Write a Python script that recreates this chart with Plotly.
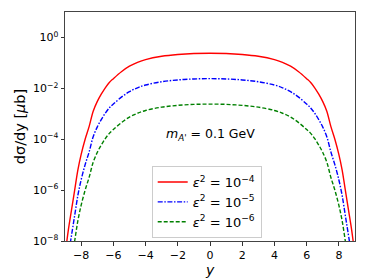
import plotly.graph_objects as go

# rapidity grid
y_rap = [-9.0, -8.8, -8.6, -8.4, -8.2, -8.0, -7.75, -7.5, -7.25, -7.0, -6.75, -6.5, -6.25,
         -6.0, -5.5, -5.0, -4.5, -4.0, -3.0, -2.0, -1.0, 0.0,
         1.0, 2.0, 3.0, 4.0, 4.5, 5.0, 5.5, 6.0, 6.25, 6.5, 6.75, 7.0, 7.25, 7.5, 7.75,
         8.0, 8.2, 8.4, 8.6, 8.8, 9.0]

# dsigma/dy [mu b], eps^2 = 1e-4
eps4 = [2.5e-9, 2.5e-8, 1.6e-7, 1.0e-6, 6.3e-6, 2.5e-5, 1.0e-4, 3.2e-4, 1.26e-3, 3.0e-3,
        5.9e-3, 1.05e-2, 1.7e-2, 2.4e-2, 4.5e-2, 7.4e-2, 1.05e-1, 1.35e-1, 1.82e-1,
        2.14e-1, 2.34e-1, 2.4e-1,
        2.34e-1, 2.14e-1, 1.82e-1, 1.35e-1, 1.05e-1, 7.4e-2, 4.5e-2, 2.4e-2, 1.7e-2,
        1.05e-2, 5.9e-3, 3.0e-3, 1.26e-3, 3.2e-4, 1.0e-4, 2.5e-5, 6.3e-6, 1.0e-6, 1.6e-7,
        2.5e-8, 2.5e-9]
# eps^2 = 1e-5
eps5 = [2.5e-10, 2.5e-9, 1.6e-8, 1.0e-7, 6.3e-7, 2.5e-6, 1.0e-5, 3.2e-5, 1.26e-4, 3.0e-4,
        5.9e-4, 1.05e-3, 1.7e-3, 2.4e-3, 4.5e-3, 7.4e-3, 1.05e-2, 1.35e-2, 1.82e-2,
        2.14e-2, 2.34e-2, 2.4e-2,
        2.34e-2, 2.14e-2, 1.82e-2, 1.35e-2, 1.05e-2, 7.4e-3, 4.5e-3, 2.4e-3, 1.7e-3,
        1.05e-3, 5.9e-4, 3.0e-4, 1.26e-4, 3.2e-5, 1.0e-5, 2.5e-6, 6.3e-7, 1.0e-7, 1.6e-8,
        2.5e-9, 2.5e-10]
# eps^2 = 1e-6
eps6 = [2.5e-11, 2.5e-10, 1.6e-9, 1.0e-8, 6.3e-8, 2.5e-7, 1.0e-6, 3.2e-6, 1.26e-5, 3.0e-5,
        5.9e-5, 1.05e-4, 1.7e-4, 2.4e-4, 4.5e-4, 7.4e-4, 1.05e-3, 1.35e-3, 1.82e-3,
        2.14e-3, 2.34e-3, 2.4e-3,
        2.34e-3, 2.14e-3, 1.82e-3, 1.35e-3, 1.05e-3, 7.4e-4, 4.5e-4, 2.4e-4, 1.7e-4,
        1.05e-4, 5.9e-5, 3.0e-5, 1.26e-5, 3.2e-6, 1.0e-6, 2.5e-7, 6.3e-8, 1.0e-8, 1.6e-9,
        2.5e-10, 2.5e-11]

x_ticks = [-8, -6, -4, -2, 0, 2, 4, 6, 8]
x_tick_text = ["−8", "−6", "−4", "−2", "0", "2", "4", "6", "8"]
y_ticks = [1e0, 1e-2, 1e-4, 1e-6, 1e-8]
y_tick_text = ["10<sup>0</sup>", "10<sup>−2</sup>", "10<sup>−4</sup>", "10<sup>−6</sup>", "10<sup>−8</sup>"]

FONT = "DejaVu Sans"

fig = go.Figure()
fig.add_trace(go.Scatter(x=y_rap, y=eps4, mode="lines", name="<i>ε</i><sup>2</sup> = 10<sup>−4</sup>",
                         line=dict(color="red", width=1.4, shape="spline")))
fig.add_trace(go.Scatter(x=y_rap, y=eps5, mode="lines", name="<i>ε</i><sup>2</sup> = 10<sup>−5</sup>",
                         line=dict(color="blue", width=1.4, shape="spline", dash="5px,1.6px,1.5px,1.6px")))
fig.add_trace(go.Scatter(x=y_rap, y=eps6, mode="lines", name="<i>ε</i><sup>2</sup> = 10<sup>−6</sup>",
                         line=dict(color="green", width=1.4, shape="spline", dash="4px,2px")))

fig.add_annotation(x=0, y=-3.8, xref="x", yref="y", showarrow=False,
                   text="<i>m</i><sub><i>A'</i></sub> = 0.1 GeV",
                   font=dict(family=FONT, size=12.5, color="black"))

# axis titles as paper annotations (exact placement)
fig.add_annotation(x=0.5, y=-0.127, xref="paper", yref="paper", xanchor="center", yanchor="middle",
                   showarrow=False, text="<i>y</i>",
                   font=dict(family=FONT, size=14, color="black"))
fig.add_annotation(x=-0.156, y=0.5, xref="paper", yref="paper", xanchor="center", yanchor="middle",
                   showarrow=False, textangle=-90, text="dσ/dy [<i>μ</i>b]",
                   font=dict(family=FONT, size=14.5, color="black"))

# the page body has an 8 px margin: the figure is sized so that the plot area
# lands at the same window pixels as in the reference
fig.update_layout(
    width=366, height=272,
    margin=dict(l=57, r=19, t=4, b=39),
    paper_bgcolor="white", plot_bgcolor="white",
    font=dict(family=FONT, size=11, color="black"),
    showlegend=True,
    legend=dict(x=0.299, y=0.013, xanchor="left", yanchor="bottom",
                bgcolor="white", bordercolor="#cccccc", borderwidth=1,
                font=dict(family=FONT, size=13, color="black"),
                tracegroupgap=0, itemwidth=30),
    xaxis=dict(range=[-9, 9], tickmode="array", tickvals=x_ticks, ticktext=x_tick_text,
               ticks="outside", ticklen=3.5, tickwidth=0.8, tickcolor="#333",
               showline=True, linecolor="#444", linewidth=1, mirror=True,
               showgrid=False, zeroline=False, automargin=False,
               tickfont=dict(family=FONT, size=11)),
    yaxis=dict(type="log", range=[-8, 1], tickmode="array", tickvals=y_ticks, ticktext=y_tick_text,
               ticks="outside", ticklen=3.5, tickwidth=0.8, tickcolor="#333",
               showline=True, linecolor="#444", linewidth=1, mirror=True,
               showgrid=False, zeroline=False, automargin=False,
               tickfont=dict(family=FONT, size=11)),
)

fig.write_html("out.html")
